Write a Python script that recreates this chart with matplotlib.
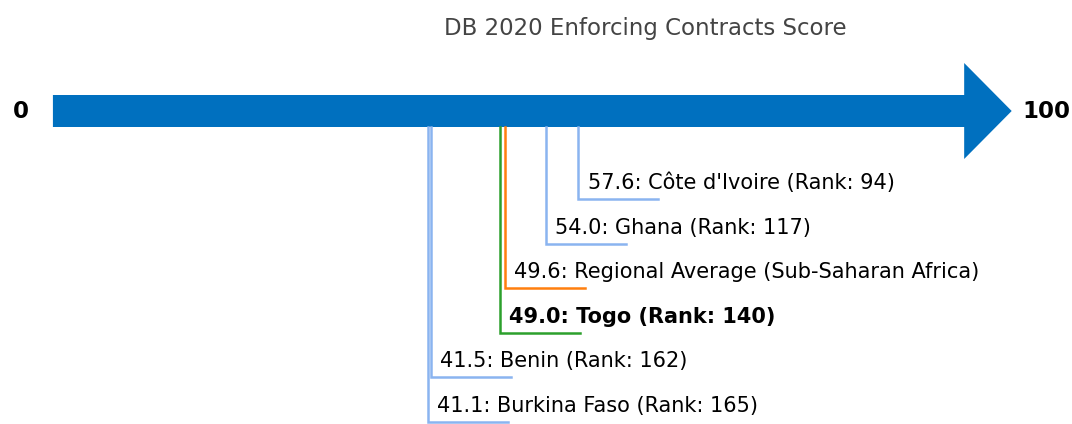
import matplotlib
matplotlib.use("Agg")
import matplotlib.pyplot as plt
from matplotlib.patches import FancyArrow

# data
names = ["Côte d'Ivoire", "Ghana", "Regional Average (Sub-Saharan Africa)",
         "Togo", "Benin", "Burkina Faso"]
scores = [57.6, 54.0, 49.6, 49.0, 41.5, 41.1]
ranks = [94, 117, None, 140, 162, 165]
kinds = ["peer", "peer", "region", "focus", "peer", "peer"]

colors = {"peer": "#8ab4f0", "region": "#ff7f0e", "focus": "#2ca02c"}

W, H = 1072, 424
fig = plt.figure(figsize=(W / 100, H / 100), dpi=100)
ax = fig.add_axes([0, 0, 1, 1])
# x in score units, y in pixels from top
px_per_unit = 9.14
x0 = 52
ax.set_xlim(-x0 / px_per_unit, (W - x0) / px_per_unit)
ax.set_ylim(H, 0)
ax.axis("off")

arrow_y = 111
ax.add_patch(FancyArrow(0.1, arrow_y, 104.9, 0, width=32, head_width=96,
                        head_length=5.2, length_includes_head=True,
                        color="#0070bf", linewidth=0))
ax.text(-3.4, arrow_y, "0", ha="center", va="center", fontsize=16.5, fontweight="bold")
ax.text(108.8, arrow_y, "100", ha="center", va="center", fontsize=16.5, fontweight="bold")

fig.text(645 / W, 1 - 28 / H, "DB 2020 Enforcing Contracts Score",
         ha="center", va="center", fontsize=16.5, color="#444444")

bar_bottom = arrow_y + 16
row0, row_gap = 199, 44.6
for i, (n, s, r, k) in enumerate(zip(names, scores, ranks, kinds)):
    y = row0 + i * row_gap
    c = colors[k]
    ax.plot([s, s, s + 8.75], [bar_bottom, y, y], color=c, lw=1.8,
            solid_joinstyle="miter", zorder=1)
    label = f"{s:.1f}: {n}" if r is None else f"{s:.1f}: {n} (Rank: {r})"
    ax.text(s + 1.0, y - 10, label, ha="left", va="baseline", fontsize=15,
            fontweight="bold" if k == "focus" else "normal")

fig.savefig("out.png", dpi=100)
